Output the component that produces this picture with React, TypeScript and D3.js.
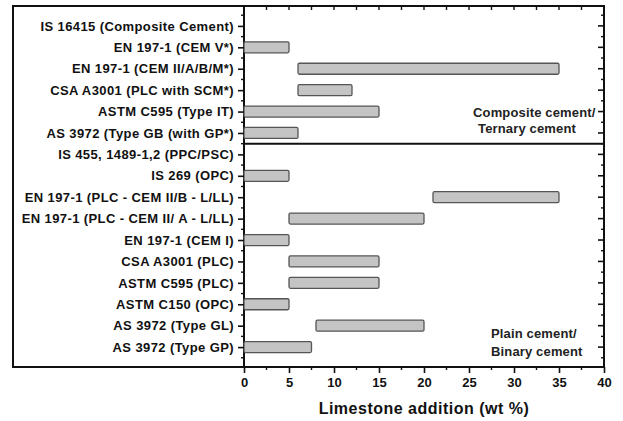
import React, { useEffect, useRef } from 'react';
import * as d3 from 'd3';

const categories = [
  'IS 16415 (Composite Cement)',
  'EN 197-1 (CEM V*)',
  'EN 197-1 (CEM II/A/B/M*)',
  'CSA  A3001 (PLC with SCM*)',
  'ASTM C595 (Type IT)',
  'AS 3972 (Type GB (with GP*)',
  'IS 455, 1489-1,2 (PPC/PSC)',
  'IS 269 (OPC)',
  'EN 197-1 (PLC - CEM II/B - L/LL)',
  'EN 197-1 (PLC - CEM II/ A - L/LL)',
  'EN 197-1 (CEM I)',
  'CSA  A3001 (PLC)',
  'ASTM C595 (PLC)',
  'ASTM C150 (OPC)',
  'AS 3972 (Type GL)',
  'AS 3972 (Type GP)',
];
const startValues = [null, 0, 6, 6, 0, 0, null, 0, 21, 5, 0, 5, 5, 0, 8, 0];
const endValues = [null, 5, 35, 12, 15, 6, null, 5, 35, 20, 5, 15, 15, 5, 20, 7.5];
const xTicks = [0, 5, 10, 15, 20, 25, 30, 35, 40];
const groupLabels = [
  ['Composite cement/', 'Ternary cement'],
  ['Plain cement/', 'Binary cement'],
];

const font = '"Liberation Sans", Arial, sans-serif';

export default function App() {
  const ref = useRef<SVGSVGElement>(null);

  useEffect(() => {
    const svg = d3.select(ref.current);
    svg.selectAll('*').remove();

    const left = 244, right = 604, top = 6, bottom = 367, frameLeft = 13;

    const x = d3.scaleLinear().domain([0, 40]).range([left, right]);
    const y = d3.scalePoint<string>().domain(categories).range([top, bottom]).padding(0.93);
    const step = y.step();
    const minorY = categories.map(c => (y(c) as number) - step / 2)
      .concat([(y(categories[categories.length - 1]) as number) + step / 2]);
    const minorX = d3.range(2.5, 40, 5);

    // outer frame + plot box
    svg.append('rect')
      .attr('x', frameLeft).attr('y', top)
      .attr('width', right - frameLeft).attr('height', bottom - top)
      .attr('fill', 'none').attr('stroke', '#111').attr('stroke-width', 2);
    svg.append('line')
      .attr('x1', left).attr('x2', left).attr('y1', top).attr('y2', bottom)
      .attr('stroke', '#111').attr('stroke-width', 2);

    // separator between groups
    const sepY = ((y(categories[5]) as number) + (y(categories[6]) as number)) / 2;
    svg.append('line')
      .attr('x1', left).attr('x2', right).attr('y1', sepY).attr('y2', sepY)
      .attr('stroke', '#111').attr('stroke-width', 2);

    // bars
    const bars = categories.map((c, i) => ({ c, s: startValues[i], e: endValues[i] }))
      .filter(d => d.s !== null && d.e !== null);
    const barH = 11;
    svg.append('g').selectAll('rect').data(bars).join('rect')
      .attr('x', d => x(d.s as number))
      .attr('y', d => (y(d.c) as number) - barH / 2)
      .attr('width', d => x(d.e as number) - x(d.s as number))
      .attr('height', barH)
      .attr('rx', 1.5)
      .attr('fill', '#c4c4c4')
      .attr('stroke', '#555')
      .attr('stroke-width', 1.3);

    // left axis
    const yAxis = svg.append('g')
      .attr('transform', `translate(${left},0)`)
      .call(d3.axisLeft(y).tickSize(6).tickPadding(4));
    yAxis.select('.domain').remove();
    yAxis.selectAll('line').attr('stroke', '#111').attr('stroke-width', 1.6);
    yAxis.selectAll('text')
      .attr('font-family', font).attr('font-weight', 'bold').attr('font-size', 13)
      .attr('letter-spacing', 0.4).attr('fill', '#111');
    svg.append('g').selectAll('line').data(minorY).join('line')
      .attr('x1', left - 3).attr('x2', left).attr('y1', d => d).attr('y2', d => d)
      .attr('stroke', '#111').attr('stroke-width', 1.4);

    // right axis ticks (inward)
    svg.append('g').selectAll('line').data(categories).join('line')
      .attr('x1', right - 6).attr('x2', right).attr('y1', d => y(d) as number).attr('y2', d => y(d) as number)
      .attr('stroke', '#111').attr('stroke-width', 1.6);
    svg.append('g').selectAll('line').data(minorY).join('line')
      .attr('x1', right - 3).attr('x2', right).attr('y1', d => d).attr('y2', d => d)
      .attr('stroke', '#111').attr('stroke-width', 1.4);

    // bottom axis
    const xAxis = svg.append('g')
      .attr('transform', `translate(0,${bottom})`)
      .call(d3.axisBottom(x).tickValues(xTicks).tickSize(6).tickPadding(5));
    xAxis.select('.domain').remove();
    xAxis.selectAll('line').attr('stroke', '#111').attr('stroke-width', 1.6);
    xAxis.selectAll('text')
      .attr('font-family', font).attr('font-weight', 'bold').attr('font-size', 13).attr('fill', '#111');
    svg.append('g').selectAll('line').data(minorX).join('line')
      .attr('x1', d => x(d)).attr('x2', d => x(d)).attr('y1', bottom).attr('y2', bottom + 3)
      .attr('stroke', '#111').attr('stroke-width', 1.4);

    // top axis ticks (inward)
    svg.append('g').selectAll('line').data(xTicks.concat(minorX)).join('line')
      .attr('x1', d => x(d)).attr('x2', d => x(d)).attr('y1', top).attr('y2', top + 4)
      .attr('stroke', '#111').attr('stroke-width', 1.4);

    // axis title
    svg.append('text')
      .attr('x', (left + right) / 2).attr('y', 414)
      .attr('text-anchor', 'middle')
      .attr('font-family', font).attr('font-weight', 'bold').attr('font-size', 16)
      .attr('letter-spacing', 0.5).attr('fill', '#111')
      .text('Limestone addition (wt %)');

    // group annotations
    const groupPos = [
      { x: [473, 478], y: [117, 133] },
      { x: [491, 491], y: [338, 356] },
    ];
    groupLabels.forEach((lines, gi) => {
      lines.forEach((t, li) => {
        svg.append('text')
          .attr('x', groupPos[gi].x[li]).attr('y', groupPos[gi].y[li])
          .attr('font-family', font).attr('font-weight', 'bold').attr('font-size', 13)
          .attr('letter-spacing', 0.15).attr('fill', '#222')
          .text(t);
      });
    });
  }, []);

  return (
    <div style={{ position: 'absolute', left: 0, top: 0, background: '#fff' }}>
      <svg ref={ref} width={623} height={421} />
    </div>
  );
}
